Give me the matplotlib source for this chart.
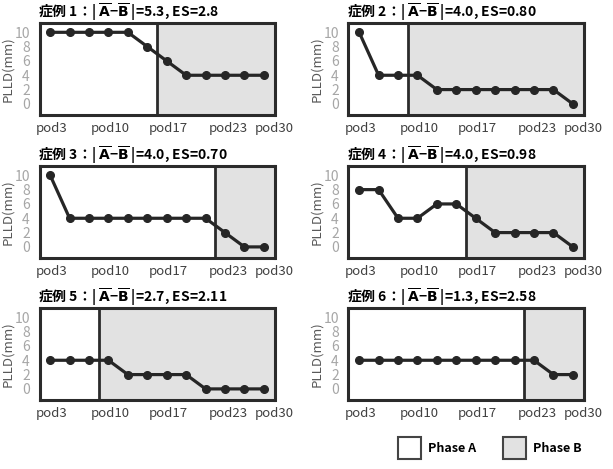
import matplotlib
matplotlib.use("Agg")
import matplotlib.pyplot as plt
from matplotlib.patches import Patch

plt.rcParams['font.family'] = ['Noto Sans CJK JP', 'DejaVu Sans']
plt.rcParams['mathtext.fontset'] = 'dejavusans'

# x tick labels (post-op days)
days = ["pod3", "pod10", "pod17", "pod23", "pod30"]
day_pos = [0.1, 3.1, 6.1, 9.15, 11.55]

# effect sizes per case
diffs = ["5.3", "4.0", "4.0", "4.0", "2.7", "1.3"]
es = ["2.8", "0.80", "0.70", "0.98", "2.11", "2.58"]

# PLLD (mm) per case, 12 measurements each
case1 = [10, 10, 10, 10, 10, 8, 6, 4, 4, 4, 4, 4]
case2 = [10, 4, 4, 4, 2, 2, 2, 2, 2, 2, 2, 0]
case3 = [10, 4, 4, 4, 4, 4, 4, 4, 4, 2, 0, 0]
case4 = [8, 8, 4, 4, 6, 6, 4, 2, 2, 2, 2, 0]
case5 = [4, 4, 4, 4, 2, 2, 2, 2, 0, 0, 0, 0]
case6 = [4, 4, 4, 4, 4, 4, 4, 4, 4, 4, 2, 2]
cases = [case1, case2, case3, case4, case5, case6]

# number of points in phase A
phase_a = [6, 3, 9, 6, 3, 9]

W, H = 613, 469
fig = plt.figure(figsize=(W / 100, H / 100), dpi=100)

lefts = [39.5, 348.5]
tops = [23, 166, 308]
aw, ah = 235, 92

dark = '#2b2b2b'
grey_b = '#e2e2e2'

for k, vals in enumerate(cases):
    r, c = divmod(k, 2)
    ax = fig.add_axes([lefts[c] / W, 1 - (tops[r] + ah) / H, aw / W, ah / H])
    x = list(range(len(vals)))
    ax.set_xlim(-0.55, 11.55)
    ax.set_ylim(-1.55, 11.3)

    split = phase_a[k] - 0.5
    ax.axvspan(split, 11.55, color=grey_b, lw=0, zorder=0)
    ax.axvline(split, color=dark, lw=2, zorder=1)
    ax.plot(x, vals, color='#262626', lw=2.3, marker='o', ms=5.5, zorder=3)

    for s in ax.spines.values():
        s.set_linewidth(2.2)
        s.set_color(dark)

    ax.set_yticks([0, 2, 4, 6, 8, 10])
    ax.set_xticks(day_pos, days)
    ax.tick_params(axis='y', length=0, pad=7, labelsize=10, labelcolor='#a6a6a6')
    ax.tick_params(axis='x', length=0, pad=5, labelsize=9.5, labelcolor='#404040')
    ax.set_ylabel('PLLD(mm)', fontsize=9.5, color='#595959', labelpad=0)

    title = (f'症例 {k + 1}：| $\\overline{{\\mathbf{{A}}}}$−$\\overline{{\\mathbf{{B}}}}$ |'
             f'={diffs[k]}, ES={es[k]}')
    ax.set_title(title, loc='left', fontsize=10, fontweight='bold', pad=3, x=-0.005)

handles = [Patch(facecolor='white', edgecolor='#444444', lw=1.5, label='Phase A'),
           Patch(facecolor=grey_b, edgecolor='#444444', lw=1.5, label='Phase B')]
fig.legend(handles=handles, ncol=2, frameon=False, loc='center left',
           bbox_to_anchor=(392 / W, 1 - 448 / H), borderpad=0,
           handlelength=1.85, handleheight=2.3, handletextpad=0.55,
           columnspacing=2.1, prop={'weight': 'bold', 'size': 9})

fig.savefig('out.png', dpi=100, facecolor='white')
